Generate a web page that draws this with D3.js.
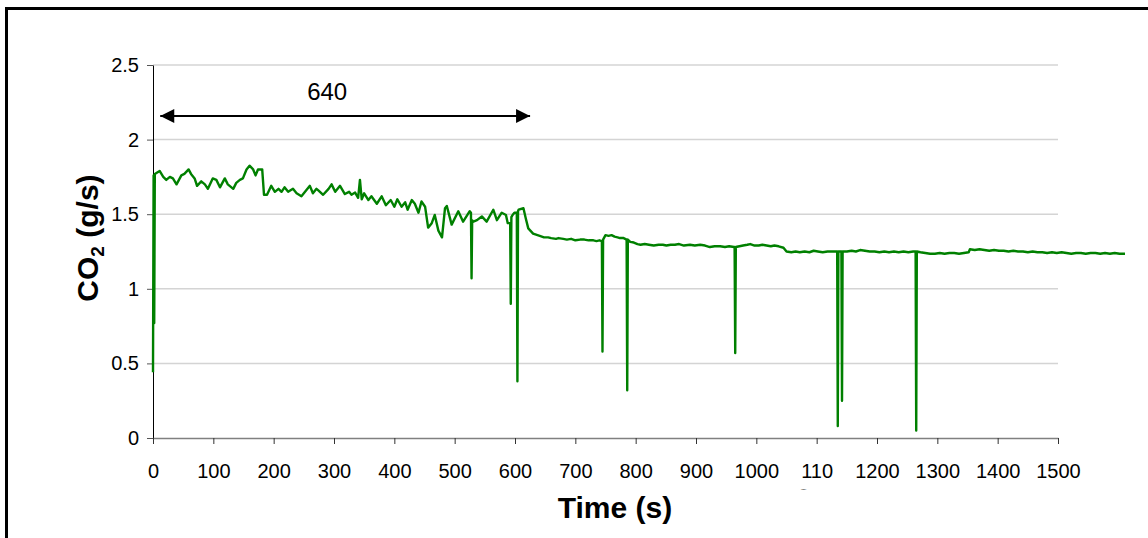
<!DOCTYPE html>
<html><head><meta charset="utf-8">
<script src="https://cdn.jsdelivr.net/npm/d3@7"></script>
<style>
html,body{margin:0;padding:0;background:#fff;}
svg{display:block;font-family:Arial,"Liberation Sans",sans-serif;}
</style></head>
<body>
<svg id="c" width="1148" height="538"></svg>
<script>
// first phase (0 - 640 s)
const timesA = [0,1,2,3,11,17,22,28,33,39,47,52,59,63,69,73,80,86,91,99,105,111,119,124,133,138,144,149,155,160,166,170,174,181,184,189,196,202,208,213,218,224,232,238,246,254,260,265,271,274,282,291,296,302,310,318,325,329,335,340,343,346,350,357,362,371,379,386,394,400,405,412,418,422,429,434,440,445,451,456,462,467,473,479,484,487,495,506,514,525,527,528,529,531,537,545,553,564,570,578,585,588,592,593,594,596,599,603,604,605,606,614,618,622,630];
const co2A = [0.44,1.76,0.77,1.77,1.79,1.75,1.73,1.75,1.74,1.70,1.76,1.77,1.80,1.77,1.74,1.69,1.72,1.70,1.67,1.74,1.73,1.68,1.74,1.70,1.67,1.71,1.73,1.74,1.80,1.825,1.80,1.76,1.80,1.80,1.63,1.63,1.69,1.65,1.67,1.65,1.68,1.65,1.67,1.64,1.62,1.66,1.69,1.64,1.67,1.66,1.63,1.67,1.70,1.65,1.69,1.635,1.65,1.63,1.645,1.61,1.73,1.60,1.64,1.595,1.62,1.57,1.62,1.56,1.595,1.55,1.60,1.55,1.58,1.53,1.595,1.57,1.51,1.585,1.55,1.41,1.44,1.495,1.39,1.345,1.54,1.555,1.43,1.52,1.45,1.52,1.51,1.07,1.46,1.45,1.46,1.485,1.45,1.53,1.46,1.51,1.495,1.44,1.44,0.90,1.48,1.495,1.51,1.51,0.38,1.52,1.53,1.54,1.47,1.405,1.37];
// second phase (641 - 1611 s)
const timesB = [641,648,655,660,668,672,680,686,693,700,708,715,722,730,735,740,744,745,746,750,755,760,765,770,774,780,785,786,787,791,797,803,808,815,822,830,838,845,851,858,865,872,880,890,898,907,915,923,931,940,948,955,963,964,965,966,972,978,985,990,997,1004,1010,1017,1024,1030,1037,1045,1050,1058,1065,1072,1080,1088,1095,1102,1110,1118,1126,1134,1135,1136,1141,1142,1143,1150,1158,1165,1172,1180,1188,1196,1204,1212,1220,1228,1236,1244,1252,1260,1264,1265,1266,1272,1280,1288,1296,1304,1312,1320,1328,1336,1344,1352,1354,1362,1370,1378,1386,1394,1402,1410,1418,1426,1434,1442,1450,1458,1466,1474,1482,1490,1498,1506,1514,1522,1530,1538,1546,1554,1562,1570,1578,1586,1594,1602,1611];
const co2B = [1.355,1.345,1.345,1.34,1.335,1.34,1.335,1.33,1.335,1.325,1.33,1.33,1.325,1.325,1.32,1.325,1.32,0.58,1.33,1.36,1.355,1.36,1.35,1.345,1.34,1.34,1.33,0.32,1.33,1.315,1.31,1.30,1.295,1.30,1.295,1.29,1.295,1.295,1.29,1.295,1.295,1.30,1.29,1.295,1.29,1.295,1.29,1.28,1.285,1.285,1.28,1.285,1.28,1.28,0.57,1.28,1.285,1.29,1.295,1.30,1.29,1.29,1.295,1.29,1.285,1.29,1.285,1.275,1.25,1.245,1.25,1.245,1.25,1.245,1.255,1.25,1.245,1.25,1.25,1.25,0.08,1.25,1.25,0.25,1.25,1.25,1.255,1.25,1.26,1.255,1.25,1.25,1.245,1.25,1.245,1.25,1.245,1.25,1.245,1.25,1.25,0.05,1.25,1.245,1.24,1.235,1.235,1.24,1.235,1.24,1.24,1.235,1.24,1.245,1.265,1.26,1.265,1.26,1.255,1.26,1.255,1.255,1.25,1.255,1.25,1.25,1.245,1.25,1.245,1.245,1.24,1.245,1.24,1.245,1.24,1.235,1.24,1.24,1.235,1.24,1.24,1.235,1.24,1.235,1.24,1.235,1.235];
const xTicks = [0,100,200,300,400,500,600,700,800,900,1000,1100,1200,1300,1400,1500];
const xTickLabels = ["0","100","200","300","400","500","600","700","800","900","1000","110","1200","1300","1400","1500"];
const yTicks = [0,0.5,1,1.5,2,2.5];
const yTickLabels = ["0","0.5","1","1.5","2","2.5"];
const spanLabel = "640";
const spanStart = 12, spanEnd = 625;

const svg = d3.select("#c");
const x = d3.scaleLinear().domain([0,1500]).range([153,1058]);
const y = d3.scaleLinear().domain([0,2.5]).range([438,65]);

// frame
svg.append("rect").attr("x",6.5).attr("y",8.5).attr("width",1160).attr("height",560)
  .attr("fill","none").attr("stroke","#000").attr("stroke-width",3);

// gridlines
svg.append("g").selectAll("line").data(yTicks.filter(d=>d>0)).join("line")
  .attr("x1",x(0)).attr("x2",x(1500)).attr("y1",d=>y(d)).attr("y2",d=>y(d))
  .attr("stroke","#d4d4d4").attr("stroke-width",1.5);

// y axis
const ya = svg.append("g").attr("transform",`translate(${x(0)},0)`)
  .call(d3.axisLeft(y).tickValues(yTicks).tickFormat((d,i)=>yTickLabels[i]).tickSize(6).tickSizeOuter(0).tickPadding(8));
ya.select(".domain").attr("stroke","#000").attr("stroke-width",1);
ya.selectAll(".tick line").attr("stroke","#555");
ya.selectAll(".tick text").attr("font-size",20).attr("fill","#000").attr("font-family","Arial, 'Liberation Sans', sans-serif");

// x axis
const xa = svg.append("g").attr("transform",`translate(0,${y(0)})`)
  .call(d3.axisBottom(x).tickValues(xTicks).tickFormat((d,i)=>xTickLabels[i]).tickSize(6).tickSizeOuter(0).tickPadding(20));
xa.select(".domain").attr("stroke","#808080").attr("stroke-width",1.5);
xa.selectAll(".tick line").attr("stroke","#333");
xa.selectAll(".tick text").attr("font-size",20).attr("fill","#000").attr("font-family","Arial, 'Liberation Sans', sans-serif");

// wrapped remainder of the 1100 label, clipped
svg.append("clipPath").attr("id","wrapclip").append("rect").attr("x",790).attr("y",480).attr("width",40).attr("height",9.5);
svg.append("text").attr("x",x(1100)-13).attr("y",503).attr("font-size",20).attr("text-anchor","middle")
  .attr("clip-path","url(#wrapclip)").text("0");

// data line
const times = timesA.concat(timesB);
const co2 = co2A.concat(co2B);
const pts = times.map((t,i)=>[t,co2[i]]);
svg.append("path").datum(pts)
  .attr("d",d3.line().x(d=>x(d[0])).y(d=>y(d[1])))
  .attr("fill","none").attr("stroke","#008000").attr("stroke-width",2.4).attr("stroke-linejoin","round");

// span arrow
const defs = svg.append("defs");
defs.append("marker").attr("id","ah").attr("viewBox","0 0 10 10").attr("refX",10).attr("refY",5)
  .attr("markerWidth",7.5).attr("markerHeight",7).attr("markerUnits","strokeWidth").attr("orient","auto-start-reverse")
  .append("path").attr("d","M0,0L10,5L0,10Z").attr("fill","#000");
const ay = 116;
svg.append("line").attr("x1",x(spanStart)).attr("x2",x(spanEnd)).attr("y1",ay).attr("y2",ay)
  .attr("stroke","#000").attr("stroke-width",2)
  .attr("marker-start","url(#ah)").attr("marker-end","url(#ah)");
svg.append("text").attr("x",(x(spanStart)+x(spanEnd))/2-18).attr("y",100).attr("text-anchor","middle")
  .attr("font-size",24).text(spanLabel);

// titles
svg.append("text").attr("x",615).attr("y",518).attr("text-anchor","middle")
  .attr("font-size",30).attr("font-weight","bold").text("Time (s)");
const yt = svg.append("text").attr("transform","translate(98,238) rotate(-90)").attr("text-anchor","middle")
  .attr("font-size",30).attr("font-weight","bold");
yt.append("tspan").text("CO");
yt.append("tspan").attr("font-size",19).attr("dy",6).text("2");
yt.append("tspan").attr("dy",-6).text(" (g/s)");
</script>
</body></html>
